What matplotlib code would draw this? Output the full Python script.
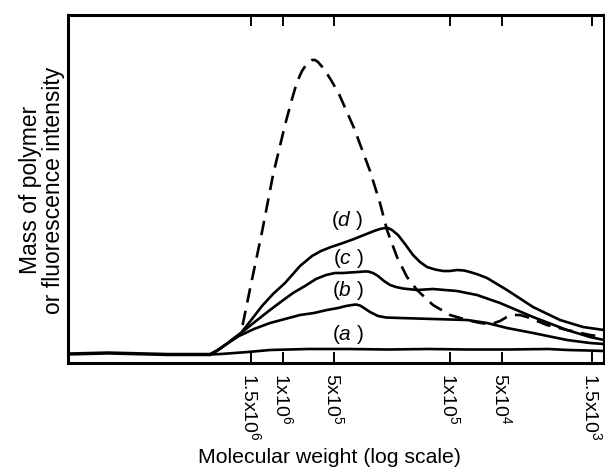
import matplotlib
matplotlib.use("Agg")
import matplotlib.pyplot as plt

plt.rcParams['font.family'] = ['Liberation Sans', 'DejaVu Sans']
plt.rcParams['mathtext.fontset'] = 'custom'
plt.rcParams['mathtext.rm'] = 'Liberation Sans'
plt.rcParams['mathtext.it'] = 'Liberation Sans:italic'

# elution position (arbitrary units, high MW on the left)
x_base = [0, 20, 40, 60, 80, 100, 120, 142]
y_base = [9, 9.5, 10, 9.5, 9, 8.5, 8.5, 8.5]

x_a = [153, 180, 202, 240, 280, 320, 360, 400, 440, 480, 500, 520, 536]
y_a = [9, 11, 13, 14, 14, 13.5, 14, 13.5, 13.5, 14, 13, 12.5, 12]

x_b = [147, 160, 171, 186, 202, 217, 232, 246, 259, 270, 278, 284, 288, 292, 296, 302, 310, 318, 332, 365, 399, 419,
       439, 465, 499, 522, 536]
y_b = [11, 20, 27, 34, 40, 44, 48, 50, 53, 55, 57, 58, 58.5, 57.5, 55, 51, 47, 45.5, 45, 44, 43, 40,
       35, 30, 23, 20, 19]

x_c = [150, 160, 173, 188, 202, 214, 225, 237, 248, 258, 267, 275, 282, 290, 296, 300, 305, 310, 316, 322, 328, 335,
       349, 365, 389, 409, 432, 465, 499, 522, 536]
y_c = [13, 20, 30, 42, 53, 62, 70, 77, 84, 88, 90, 90, 90.5, 91, 91.5, 91.5, 90, 87, 82, 78, 76, 74.5,
       73, 74, 72, 68, 60, 46, 33, 26, 23]

x_d = [150, 160, 173, 184, 194, 205, 217, 225, 232, 238, 244, 253, 263, 275, 286, 296, 306, 312, 317, 320, 324, 330,
       337, 345, 352, 359, 367, 375, 382, 389, 396, 402, 410, 419, 439, 465, 492, 515, 536]
y_d = [13, 20, 30, 44, 57, 69, 80, 89, 97, 102, 107, 112, 116, 120, 124, 128, 132, 134, 135, 135, 133, 128,
       119, 108, 101, 96, 93.5, 92, 92, 93, 92.5, 91, 88.5, 85, 73, 56, 43, 36, 33]

x_dash = [142, 150, 160, 173, 182, 194, 205, 217, 224, 229, 234, 238, 241, 244, 247, 250, 256, 263, 271, 286, 302,
          312, 319, 329, 339, 349, 365, 382, 399, 410, 419, 425, 432, 438, 445, 452, 459, 479, 499, 522, 536]
y_dash = [8.5, 13, 20, 30, 74, 131, 188, 238, 264, 281, 292, 298, 301, 303, 303, 301, 294, 283, 269, 235, 192,
          160, 133, 106, 86, 73, 58, 48, 43, 40.5, 39, 39.5, 42, 45.5, 48, 48, 46, 38, 33, 28, 26]

tick_pos = [183, 215, 266, 382, 434, 524]
tick_labels = ['1.5x10$^6$', '1x10$^6$', '5x10$^5$', '1x10$^5$', '5x10$^4$', '1.5x10$^3$']

name_letters = ['a', 'b', 'c', 'd']
name_x = [280, 280, 280, 279]
name_y = [28, 73, 105, 142]

fig = plt.figure(figsize=(6.05, 4.68), dpi=100)
ax = fig.add_axes([68/605, 1-363/468, 536/605, 348/468])

lw = 1.9
ax.plot(x_base, y_base, color='black', lw=lw + 0.6, solid_capstyle='round')
for xs, ys in [(x_a, y_a), (x_b, y_b), (x_c, y_c), (x_d, y_d)]:
    ax.plot([x_base[-1]] + xs, [y_base[-1]] + ys, color='black', lw=lw,
            solid_joinstyle='round')
ax.plot(x_dash, y_dash, color='black', lw=lw, linestyle=(0, (5.5, 3.2)))

for letter, tx, ty in zip(name_letters, name_x, name_y):
    ax.text(tx, ty, '(' + '$\\it{' + letter + '}$' + ' )', ha='center', va='center', fontsize=15)

ax.set_xlim(0, 536)
ax.set_ylim(0, 348)
ax.set_yticks([])
ax.set_xticks(tick_pos)
ax.set_xticklabels(tick_labels, rotation=270, fontsize=14)
ax.tick_params(axis='x', direction='in', top=True, length=8, width=1.4, pad=7)
for s in ax.spines.values():
    s.set_linewidth(2.2)

fig.text(330/605, 1-463/468, 'Molecular weight (log scale)', ha='center', va='baseline', fontsize=15.3)
fig.text(42/605, 1-190/468, 'Mass of polymer\nor fluorescence intensity', rotation=90,
         ha='center', va='center', multialignment='center', fontsize=16.5, linespacing=1.0)

fig.savefig('out.png', dpi=100)
